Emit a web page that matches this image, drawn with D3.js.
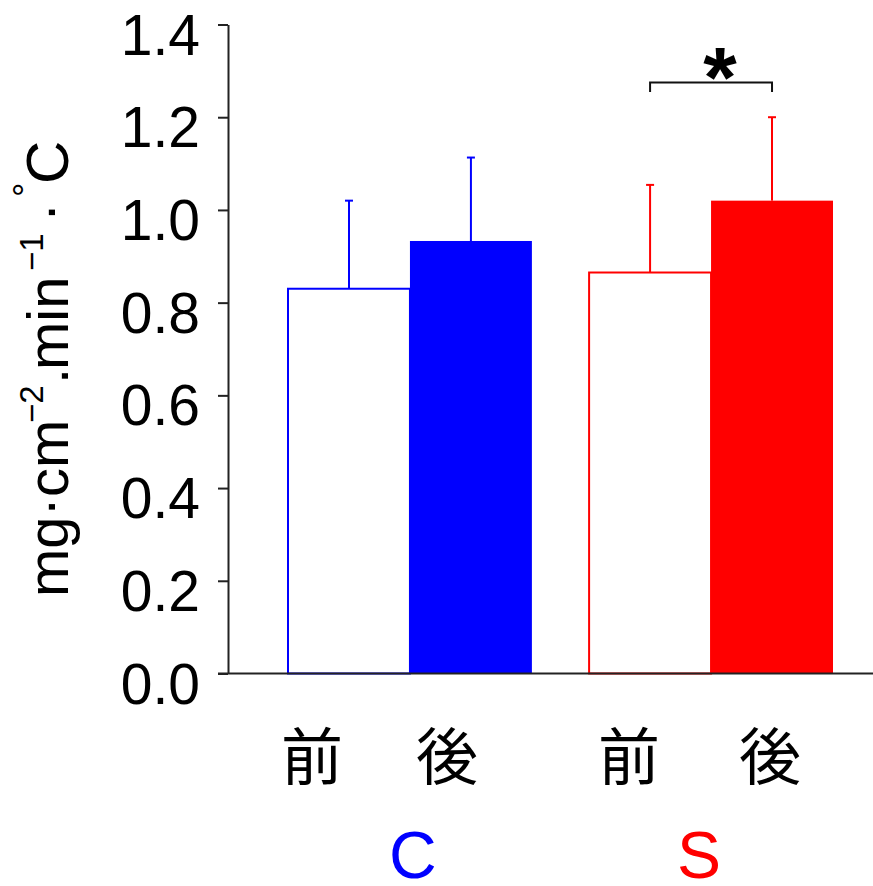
<!DOCTYPE html>
<html>
<head>
<meta charset="utf-8">
<script src="https://cdn.jsdelivr.net/npm/d3@7"></script>
<style>
  html, body { margin: 0; padding: 0; background: #fff; }
  svg { display: block; }
  .tick text { font-family: "Liberation Sans", Arial, sans-serif; }
</style>
</head>
<body>
<svg id="chart" width="873" height="886"></svg>
<script>
// Groups, phases and summary statistics (mean and SD)
const groups = ["C", "S"];
const phases = ["前", "後"];
const meansC = [0.830, 0.933];
const sdC = [0.190, 0.180];
const meansS = [0.865, 1.020];
const sdS = [0.189, 0.180];
const groupColors = ["#0000ff", "#ff0000"];
const yTickValues = [0, 0.2, 0.4, 0.6, 0.8, 1.0, 1.2, 1.4];
const sigLabel = "*";

const means = [meansC, meansS];
const sds = [sdC, sdS];

const svg = d3.select("#chart");
const sans = '"Liberation Sans", Arial, sans-serif';
const cjk = '"Noto Sans CJK JP", "Noto Sans CJK SC", sans-serif';

const y = d3.scaleLinear().domain([0, 1.4]).range([673.5, 24.5]);
const xGroup = d3.scaleBand().domain(groups).range([288, 833]).paddingInner(0.19);
const xPhase = d3.scaleBand().domain(phases).range([0, xGroup.bandwidth()]);

const rows = [];
groups.forEach((g, gi) => {
  phases.forEach((p, pi) => {
    rows.push({
      group: g, phase: p, gi, pi,
      mean: means[gi][pi], sd: sds[gi][pi],
      color: groupColors[gi],
      x0: xGroup(g) + xPhase(p),
      cx: xGroup(g) + xPhase(p) + xPhase.bandwidth() / 2
    });
  });
});

// Error bars (drawn first so the bars sit on top of their bases)
const err = svg.append("g");
rows.forEach(d => {
  err.append("line")
    .attr("x1", d.cx).attr("x2", d.cx)
    .attr("y1", y(d.mean)).attr("y2", y(d.mean + d.sd))
    .attr("stroke", d.color).attr("stroke-width", 2);
  err.append("line")
    .attr("x1", d.cx - 4).attr("x2", d.cx + 4)
    .attr("y1", y(d.mean + d.sd)).attr("y2", y(d.mean + d.sd))
    .attr("stroke", d.color).attr("stroke-width", 2);
});

// Bars: open for 前, solid for 後
const bars = svg.append("g");
rows.filter(d => d.pi === 0).forEach(d => {
  bars.append("rect")
    .attr("x", d.x0).attr("y", y(d.mean))
    .attr("width", xPhase.bandwidth()).attr("height", y(0) - y(d.mean))
    .attr("fill", "#fff").attr("stroke", d.color).attr("stroke-width", 2);
});
rows.filter(d => d.pi === 1).forEach(d => {
  bars.append("rect")
    .attr("x", d.x0).attr("y", y(d.mean))
    .attr("width", xPhase.bandwidth()).attr("height", y(0) - y(d.mean))
    .attr("fill", d.color);
});

// Y axis
const yAxis = svg.append("g")
  .attr("transform", "translate(228,0)")
  .call(d3.axisLeft(y).tickValues(yTickValues).tickFormat(d3.format(".1f"))
    .tickSize(10).tickSizeOuter(0).tickPadding(18));
yAxis.select(".domain").attr("stroke", "#222").attr("stroke-width", 2);
yAxis.selectAll(".tick line").attr("stroke", "#222").attr("stroke-width", 2);
yAxis.selectAll(".tick text")
  .attr("font-size", 57).attr("fill", "#000").attr("dy", "0.52em");

// X axis baseline
svg.append("line")
  .attr("x1", 218).attr("x2", 873)
  .attr("y1", y(0)).attr("y2", y(0))
  .attr("stroke", "#222").attr("stroke-width", 2);

// Significance bracket between S 前 and S 後
const sPre = rows[2], sPost = rows[3];
const bracketY = y(1.275);
svg.append("path")
  .attr("d", `M${sPre.cx},${bracketY + 9.5}V${bracketY}H${sPost.cx}V${bracketY + 9.5}`)
  .attr("fill", "none").attr("stroke", "#111").attr("stroke-width", 2);
svg.append("text")
  .attr("x", (sPre.cx + sPost.cx) / 2 + 9).attr("y", 107)
  .attr("text-anchor", "middle")
  .attr("font-family", sans).attr("font-weight", "bold").attr("font-size", 86)
  .text(sigLabel);

// Phase labels under each bar
const phaseOffsets = [-37, -24, -21, -2];
rows.forEach((d, i) => {
  svg.append("text")
    .attr("x", d.cx + phaseOffsets[i]).attr("y", 753)
    .attr("text-anchor", "middle").attr("dominant-baseline", "central")
    .attr("font-family", cjk).attr("font-weight", 400)
    .attr("font-size", 62).attr("fill", "#000")
    .text(d.phase);
});

// Group labels
const groupOffsets = [3, -12];
groups.forEach((g, gi) => {
  svg.append("text")
    .attr("x", xGroup(g) + xGroup.bandwidth() / 2 + groupOffsets[gi]).attr("y", 878)
    .attr("text-anchor", "middle")
    .attr("font-family", sans).attr("font-size", 66).attr("fill", groupColors[gi])
    .text(g);
});

// Y axis title: mg·cm⁻².min⁻¹·°C
const title = svg.append("text")
  .attr("transform", "rotate(-90)")
  .attr("font-family", sans).attr("fill", "#000");
title.append("tspan").attr("x", -597).attr("y", 68).attr("font-size", 58).text("mg·cm");
title.append("tspan").attr("x", -423).attr("y", 43).attr("font-size", 33).text("−2");
title.append("tspan").attr("x", -384).attr("y", 68).attr("font-size", 58).text(".");
title.append("tspan").attr("x", -370).attr("y", 68).attr("font-size", 58).text("min");
title.append("tspan").attr("x", -271).attr("y", 43).attr("font-size", 33).text("−1");
title.append("tspan").attr("x", -222).attr("y", 68).attr("font-size", 58).text("·");
title.append("tspan").attr("x", -197).attr("y", 39).attr("font-size", 36).text("°");
title.append("tspan").attr("x", -184).attr("y", 68).attr("font-size", 60).text("C");
</script>
</body>
</html>
